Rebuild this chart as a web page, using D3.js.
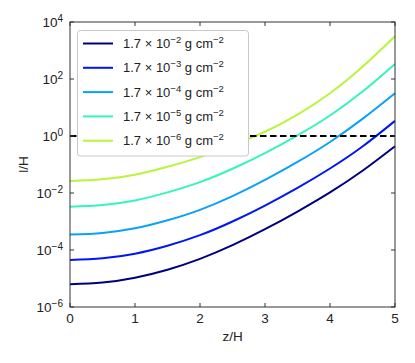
<!DOCTYPE html>
<html><head><meta charset="utf-8">
<script src="https://cdn.jsdelivr.net/npm/d3@7"></script>
<style>body{margin:0;background:#fff;} text{font-family:"Liberation Sans",Arial,sans-serif;}</style>
</head><body><svg id="c" width="415" height="363"></svg>
<script>
const zValues = [0, 0.5, 1, 1.5, 2, 2.5, 3, 3.5, 4, 4.5, 5];
const seriesLabels = ["-2", "-3", "-4", "-5", "-6"];
const seriesColors = ["#00007f", "#0016f5", "#0aa2f5", "#33f5bd", "#b8f53c"];
const s1 = [6.31e-6, 7.24e-6, 1.07e-5, 2.04e-5, 4.90e-5, 1.48e-4, 5.37e-4, 2.24e-3, 1.05e-2, 6.03e-2, 0.437];
const s2 = [4.47e-5, 5.13e-5, 7.41e-5, 1.41e-4, 3.31e-4, 1.0e-3, 3.63e-3, 1.51e-2, 7.24e-2, 0.427, 3.39];
const s3 = [3.47e-4, 3.98e-4, 5.75e-4, 1.10e-3, 2.57e-3, 7.76e-3, 2.88e-2, 0.123, 0.617, 3.98, 31.6];
const s4 = [3.31e-3, 3.80e-3, 5.50e-3, 1.05e-2, 2.40e-2, 7.08e-2, 0.251, 1.05, 5.25, 36.3, 339];
const s5 = [2.63e-2, 3.02e-2, 4.37e-2, 8.32e-2, 0.182, 0.479, 1.41, 5.62, 31.6, 269, 3160];
const seriesValues = [s1, s2, s3, s4, s5];
const xTicks = [0, 1, 2, 3, 4, 5];
const yTickExps = [-6, -4, -2, 0, 2, 4];
const refLine = 1;

const svg = d3.select("#c");
const L = 70, R = 395, T = 22, B = 307;
const x = d3.scaleLinear().domain([0, 5]).range([L, R]);
const y = d3.scaleLog().domain([1e-6, 1e4]).range([B, T]);
const axisColor = "#333";

// curves
const line = d3.line().x((d, i) => x(zValues[i])).y(d => y(d)).curve(d3.curveNatural);
seriesValues.forEach((vals, k) => {
  svg.append("path").attr("d", line(vals)).attr("fill", "none")
    .attr("stroke", seriesColors[k]).attr("stroke-width", 2);
});

// dashed reference
svg.append("line").attr("x1", x(0)).attr("x2", x(5)).attr("y1", y(refLine)).attr("y2", y(refLine))
  .attr("stroke", "#000").attr("stroke-width", 2).attr("stroke-dasharray", "6.5,3.5");

// frame
svg.append("rect").attr("x", L).attr("y", T).attr("width", R - L).attr("height", B - T)
  .attr("fill", "none").attr("stroke", axisColor).attr("stroke-width", 1);

// ticks (inward, all sides)
const tl = 4;
xTicks.forEach(t => {
  const px = x(t);
  svg.append("line").attr("x1", px).attr("x2", px).attr("y1", B).attr("y2", B - tl).attr("stroke", axisColor);
  svg.append("line").attr("x1", px).attr("x2", px).attr("y1", T).attr("y2", T + tl).attr("stroke", axisColor);
  svg.append("text").attr("x", px).attr("y", 323).attr("text-anchor", "middle")
    .attr("font-size", 13.5).attr("fill", "#222").text(t);
});
yTickExps.forEach(e => {
  const py = y(Math.pow(10, e));
  svg.append("line").attr("x1", L).attr("x2", L + tl).attr("y1", py).attr("y2", py).attr("stroke", axisColor);
  svg.append("line").attr("x1", R).attr("x2", R - tl).attr("y1", py).attr("y2", py).attr("stroke", axisColor);
  const t = svg.append("text").attr("x", 63).attr("y", py + 5).attr("text-anchor", "end")
    .attr("font-size", 13.5).attr("fill", "#222");
  t.append("tspan").text("10");
  t.append("tspan").attr("dy", -5.5).attr("font-size", 10).text(String(e).replace("-", "\u2212"));
});

// axis labels
svg.append("text").attr("x", (L + R) / 2).attr("y", 341).attr("text-anchor", "middle")
  .attr("font-size", 13.5).attr("fill", "#222").text("z/H");
svg.append("text").attr("transform", `translate(28,${(T + B) / 2}) rotate(-90)`).attr("text-anchor", "middle")
  .attr("font-size", 13.5).attr("fill", "#222").text("l/H");

// legend
const lg = svg.append("g");
lg.append("rect").attr("x", 77.5).attr("y", 30.5).attr("width", 171).attr("height", 125.5)
  .attr("rx", 3).attr("fill", "#fff").attr("stroke", "#c8c8c8").attr("stroke-width", 1);
seriesLabels.forEach((lab, k) => {
  const py = 43.5 + k * 24.3;
  lg.append("line").attr("x1", 83).attr("x2", 113).attr("y1", py).attr("y2", py)
    .attr("stroke", seriesColors[k]).attr("stroke-width", 2);
  const t = lg.append("text").attr("x", 123).attr("y", py + 4.5).attr("font-size", 13).attr("fill", "#222");
  t.append("tspan").text("1.7 \u00d7 10");
  t.append("tspan").attr("dy", -5).attr("font-size", 9.5).text(lab.replace("-", "\u2212"));
  t.append("tspan").attr("dy", 5).text(" g cm");
  t.append("tspan").attr("dy", -5).attr("font-size", 9.5).text("\u22122");
});
</script></body></html>
